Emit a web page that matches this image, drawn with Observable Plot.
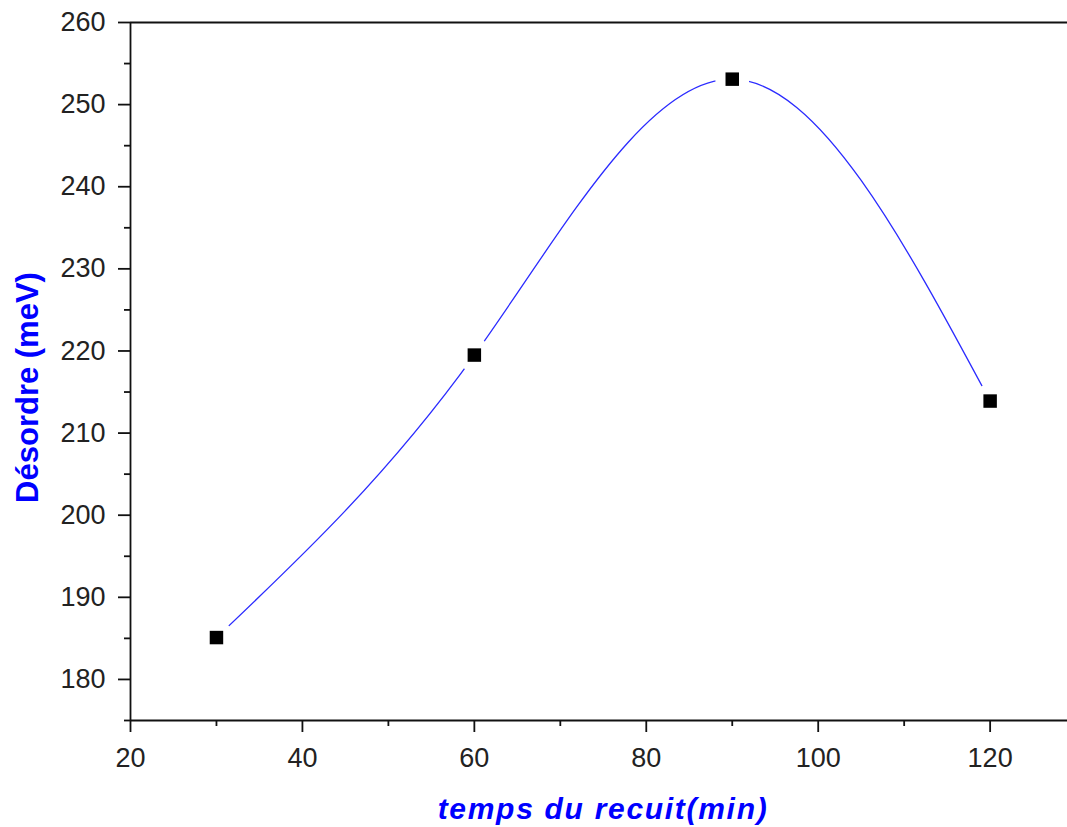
<!DOCTYPE html>
<html>
<head>
<meta charset="utf-8">
<script src="https://cdn.jsdelivr.net/npm/d3@7"></script>
<script src="https://cdn.jsdelivr.net/npm/@observablehq/plot@0.6"></script>
<style>
  html, body { margin: 0; padding: 0; background: #fff; }
  #chart svg { display: block; }
</style>
</head>
<body>
<div id="chart"></div>
<script>
// Data
const annealTime = [30, 60, 90, 120];          // temps du recuit (min)
const disorder   = [185.1, 219.5, 253.1, 213.9]; // Désordre (meV)

const xMajorTicks = [20, 40, 60, 80, 100, 120];
const xMinorTicks = [30, 50, 70, 90, 110];
const yMajorTicks = [180, 190, 200, 210, 220, 230, 240, 250, 260];
const yMinorTicks = [175, 185, 195, 205, 215, 225, 235, 245, 255];

const xTitle = "temps du recuit(min)";
const yTitle = "Désordre (meV)";

const data = annealTime.map((t, i) => ({t, d: disorder[i]}));

const font = "Arial, 'Liberation Sans', sans-serif";
const axisColor = "#111";
const sw = 1.8;

const chart = Plot.plot({
  width: 1067,
  height: 827,
  marginLeft: 130,
  marginRight: 0,
  marginTop: 22,
  marginBottom: 107,
  style: {fontFamily: font, fontSize: "27px", color: "#222", background: "#fff"},
  x: {domain: [20, 129]},
  y: {domain: [175, 260]},
  marks: [
    // fitted curve
    Plot.line(data, {x: "t", y: "d", curve: "natural", stroke: "#2b2bff", strokeWidth: 1.3}),
    // gaps around markers
    Plot.dot(data, {x: "t", y: "d", r: 17, fill: "white", stroke: "none"}),
    // markers
    Plot.dot(data, {x: "t", y: "d", symbol: "square", r: 7.6, fill: "black", stroke: "none"}),
    // frame lines
    Plot.ruleY([260], {stroke: axisColor, strokeWidth: sw}),
    Plot.ruleY([175], {stroke: axisColor, strokeWidth: sw}),
    Plot.ruleX([20], {stroke: axisColor, strokeWidth: sw}),
    // axes
    Plot.axisX(xMinorTicks, {tickSize: 6, fill: "none", label: null, stroke: axisColor, strokeWidth: sw}),
    Plot.axisX(xMajorTicks, {tickSize: 12, tickPadding: 15, label: null, stroke: axisColor, strokeWidth: sw, fill: "#222"}),
    Plot.axisY(yMinorTicks, {tickSize: 6, fill: "none", label: null, stroke: axisColor, strokeWidth: sw}),
    Plot.axisY(yMajorTicks, {tickSize: 12, tickPadding: 13, label: null, stroke: axisColor, strokeWidth: sw, fill: "#222"}),
    // axis titles
    Plot.text([xTitle], {frameAnchor: "bottom", lineAnchor: "bottom", textAnchor: "middle", dx: 4, dy: 98,
      fill: "#0000ff", fontSize: 30, fontWeight: "bold", fontStyle: "italic"}),
    Plot.text([yTitle], {frameAnchor: "left", lineAnchor: "middle", textAnchor: "middle", rotate: -90, dx: -102, dy: 16,
      fill: "#0000ff", fontSize: 31, fontWeight: "bold"})
  ]
});

// widen the x title letter spacing as in the reference
d3.select(chart).selectAll("text")
  .filter(function() { return this.textContent === xTitle; })
  .style("letter-spacing", "1.7px");

document.getElementById("chart").appendChild(chart);
</script>
</body>
</html>
